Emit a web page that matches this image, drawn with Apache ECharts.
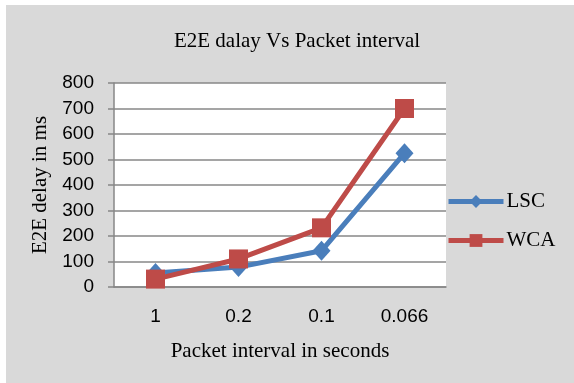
<!DOCTYPE html>
<html><head><meta charset="utf-8">
<script src="https://cdn.jsdelivr.net/npm/echarts@6/dist/echarts.min.js"></script>
<style>html,body{margin:0;padding:0;background:#fff;}#c{width:574px;height:383px;}</style>
</head><body><div id="c"></div>
<script>
const categories = ['1', '0.2', '0.1', '0.066'];
const lscValues = [55, 78, 142, 525];
const wcaValues = [31, 110, 232, 700];
const yTicks = [0, 100, 200, 300, 400, 500, 600, 700, 800];

const chart = echarts.init(document.getElementById('c'), null, {renderer: 'canvas'});
const serif = "'Liberation Serif', 'DejaVu Serif', serif";
const sans = "'Liberation Sans', Arial, sans-serif";
const gridColor = '#878787';
chart.setOption({
  backgroundColor: '#fff',
  animation: false,
  graphic: [{type: 'rect', z: -10, shape: {x: 6, y: 5, width: 568, height: 378}, style: {fill: '#d9d9d9'}}],
  title: {text: 'E2E dalay Vs Packet interval', left: 292, top: 26, textAlign: 'center',
    textStyle: {fontFamily: serif, fontWeight: 'normal', fontSize: 21, color: '#000'}},
  grid: {left: 114, right: 128, top: 83, bottom: 96, show: true, backgroundColor: '#fff', borderWidth: 0},
  legend: {orient: 'vertical', left: 446, top: 191, padding: 0, itemWidth: 55, itemHeight: 16, itemGap: 18,
    textStyle: {fontFamily: serif, fontSize: 21, color: '#000', padding: [0, 0, 0, -2]},
    lineStyle: {width: 5},
    data: ['LSC', 'WCA']},
  xAxis: {type: 'category', data: categories, boundaryGap: true,
    name: 'Packet interval in seconds', nameLocation: 'middle', nameGap: 54,
    nameTextStyle: {fontFamily: serif, fontSize: 21, color: '#000'},
    axisLine: {lineStyle: {color: gridColor, width: 1.5}},
    axisTick: {show: false},
    axisLabel: {fontFamily: sans, fontSize: 19, color: '#000', margin: 20}},
  yAxis: {type: 'value', min: yTicks[0], max: yTicks[yTicks.length - 1], interval: 100,
    name: 'E2E delay in ms', nameLocation: 'middle', nameGap: 61,
    nameTextStyle: {fontFamily: serif, fontSize: 21, color: '#000'},
    axisLine: {show: true, lineStyle: {color: gridColor, width: 1.5}},
    axisTick: {show: true, length: 6, lineStyle: {color: gridColor, width: 1.5}},
    splitLine: {lineStyle: {color: gridColor, width: 1.5}},
    axisLabel: {fontFamily: sans, fontSize: 19, color: '#000', margin: 20}},
  series: [
    {name: 'LSC', type: 'line', data: lscValues, symbol: 'diamond', symbolSize: [18, 20],
      itemStyle: {color: '#4a7ebb'}, lineStyle: {width: 5, color: '#4a7ebb'}},
    {name: 'WCA', type: 'line', data: wcaValues, symbol: 'rect', symbolSize: 19,
      itemStyle: {color: '#be4b48'}, lineStyle: {width: 5, color: '#be4b48'}}
  ]
});
</script></body></html>
